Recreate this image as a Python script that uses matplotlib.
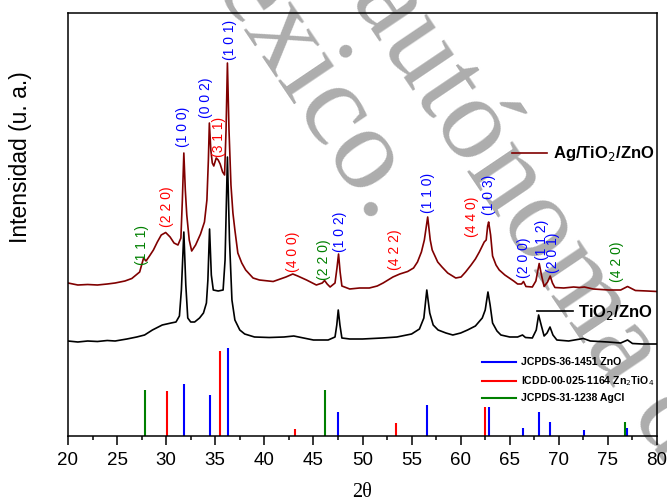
import matplotlib
matplotlib.use("Agg")
import matplotlib.pyplot as plt
from matplotlib.ticker import MultipleLocator

plt.rcParams["font.family"] = ["Liberation Sans", "DejaVu Sans"]

# --- diffractogram of TiO2/ZnO (2theta, intensity a.u.) ---
tz_2theta = [20.0, 21.0, 22.0, 23.0, 24.0, 24.8, 26.0, 27.0, 27.8, 28.6, 29.6, 30.5, 31.0,
             31.35, 31.55, 31.8, 32.0, 32.2, 32.5, 32.9, 33.4, 33.8, 34.1, 34.25, 34.42,
             34.6, 34.8, 35.3, 35.8, 36.0, 36.24, 36.45, 36.7, 37.0, 37.5, 38.0, 39.0,
             40.5, 42.0, 43.0, 44.0, 45.0, 46.5, 47.2, 47.38, 47.53, 47.7, 47.9, 48.7,
             50.0, 52.0, 53.5, 55.0, 55.8, 56.25, 56.55, 56.85, 57.2, 57.7, 58.5, 59.2,
             60.0, 60.7, 61.5, 62.2, 62.5, 62.78, 63.0, 63.25, 63.7, 64.1, 65.0, 65.8,
             66.3, 66.6, 67.3, 67.7, 67.94, 68.2, 68.5, 68.8, 69.1, 69.4, 69.8, 71.0,
             72.5, 73.2, 75.0, 76.3, 77.0, 77.5, 78.5, 80.0]
tz_int = [95, 94, 95, 94.5, 95.5, 95, 97, 99, 101, 106, 111, 113, 114,
          120, 146, 204, 151, 118, 114, 114, 118, 123, 133, 156, 207,
          161, 146, 145, 146, 176, 279, 196, 136, 116, 106, 102, 99,
          98.5, 99, 100, 98, 96, 96, 99, 111, 126, 111, 98, 97,
          97, 98, 99, 102, 107, 118, 146, 123, 111, 106, 103, 101,
          103, 106, 110, 118, 126, 144, 131, 113, 105, 101, 99, 99,
          101, 98.5, 98, 106, 121, 111, 100, 103, 109, 101, 96, 95,
          97.5, 95, 94, 93, 96, 92.5, 92, 92]

# --- diffractogram of Ag/TiO2/ZnO ---
ag_2theta = [20.0, 21.0, 22.0, 23.0, 24.0, 24.8, 25.8, 26.5, 27.3, 27.7, 27.95, 28.3, 28.7,
             29.1, 29.5, 29.95, 30.4, 30.8, 31.2, 31.5, 31.65, 31.8, 31.95, 32.1, 32.35,
             32.6, 33.0, 33.5, 33.9, 34.15, 34.3, 34.4, 34.55, 34.7, 34.85, 35.1, 35.3,
             35.5, 35.75, 35.95, 36.1, 36.24, 36.4, 36.6, 36.8, 37.0, 37.3, 37.7, 38.1,
             38.85, 39.5, 40.9, 42.2, 42.9, 43.4, 44.3, 45.3, 45.9, 46.14, 46.4, 46.7,
             47.2, 47.4, 47.56, 47.72, 47.9, 48.7, 49.7, 50.7, 51.5, 52.1, 53.1, 53.8,
             54.6, 55.2, 55.6, 56.0, 56.3, 56.64, 56.9, 57.1, 57.66, 58.1, 58.68, 59.5,
             60.04, 60.5, 61.06, 61.5, 61.9, 62.4, 62.6, 62.75, 62.85, 63.05, 63.25, 63.6,
             63.93, 64.5, 64.95, 65.4, 65.8, 66.2, 66.4, 66.65, 67.3, 67.66, 68.0, 68.25,
             68.5, 68.85, 69.12, 69.35, 69.6, 70.5, 71.5, 72.1, 72.6, 73.5, 75.1, 76.3,
             77.0, 77.5, 77.8, 79.0, 80.0]
ag_int = [153, 151, 151.5, 151, 152, 153, 155, 157.5, 164, 178, 175, 180, 186,
          194, 201, 203.5, 199, 193, 191, 198, 236, 283, 246, 221, 196,
          185, 191, 202, 214, 236, 276, 313, 286, 273, 270, 278, 276,
          272, 264, 261, 306, 373, 306, 251, 223, 206, 183, 173, 166,
          158, 156, 154.5, 159, 162, 160, 156, 151, 153, 155.5, 152, 149,
          153, 168, 182, 164, 150, 147, 148, 148, 150, 153, 159, 162,
          164.5, 168, 174, 184, 196, 219, 196, 186, 174, 169, 163, 158,
          159, 164, 171, 177, 184, 194, 196, 210, 214, 201, 180, 171,
          166, 161, 158, 155, 152, 152, 154.5, 149.5, 149, 155, 172.5, 160,
          149.5, 154, 160, 153, 148.5, 148, 149, 148.5, 149, 147, 146, 146,
          149.5, 147, 145.5, 145, 144.5]

# --- reference patterns ---
zno_pos = [31.77, 34.42, 36.25, 47.54, 56.60, 62.86, 66.38, 67.96, 69.10, 72.56, 76.95]
zno_int = [52, 41, 88, 24, 31, 29, 8, 24, 14, 6, 8]
zn2tio4_pos = [30.04, 35.46, 43.13, 53.43, 62.52]
zn2tio4_int = [45, 85, 7, 13, 29]
agcl_pos = [27.83, 46.20, 76.73]
agcl_int = [46, 46, 14]

ref_names = ["JCPDS-36-1451 ZnO",
             r"ICDD-00-025-1164 Zn$_2$TiO$_4$",
             "JCPDS-31-1238 AgCl"]

# --- Miller index labels ---
hkl_text = ["(1 1 1)", "(2 2 0)", "(1 0 0)", "(0 0 2)", "(3 1 1)", "(1 0 1)",
            "(4 0 0)", "(2 2 0)", "(1 0 2)", "(4 2 2)", "(1 1 0)", "(4 4 0)",
            "(1 0 3)", "(2 0 0)", "(1 1 2)", "(2 0 1)", "(4 2 0)"]
hkl_x = [27.53, 30.04, 31.73, 34.10, 35.39, 36.48, 42.90, 46.03, 47.73, 53.30,
         56.64, 61.20, 62.92, 66.48, 68.25, 69.42, 75.97]
hkl_y = [191, 229, 309, 338, 299, 396, 184, 176, 204, 186, 243, 219, 241,
         178, 196, 183, 174]
hkl_color = ["#008000", "#ff0000", "#0000ff", "#0000ff", "#ff0000", "#0000ff",
             "#ff0000", "#008000", "#0000ff", "#ff0000", "#0000ff", "#ff0000",
             "#0000ff", "#0000ff", "#0000ff", "#0000ff", "#008000"]

BLUE, RED, GREEN, MAROON = "#0000ff", "#ff0000", "#008000", "#800000"

fig = plt.figure(figsize=(6.67, 5.04), dpi=100)
ax = fig.add_axes([68 / 667, 68 / 504, 589 / 667, 423 / 504])
ax.set_facecolor("none")
ax.set_zorder(2)

# watermark
wm = dict(family="Liberation Serif", fontsize=86, color="#adadad",
          rotation=-56, rotation_mode="anchor", va="baseline", zorder=0)
fig.text(373 / 667, 1 - 227 / 504, "México.", ha="right", **wm)
fig.text(350 / 667, 1 + 2 / 504, "autónoma de", ha="left", **wm)

ax.plot(tz_2theta, tz_int, color="black", lw=1.2)
ax.plot(ag_2theta, ag_int, color=MAROON, lw=1.2)

ax.vlines(zno_pos, 0, zno_int, color=BLUE, lw=1.5)
ax.vlines(zn2tio4_pos, 0, zn2tio4_int, color=RED, lw=1.5)
ax.vlines(agcl_pos, 0, agcl_int, color=GREEN, lw=1.5)

for t, x, y, c in zip(hkl_text, hkl_x, hkl_y, hkl_color):
    ax.text(x, y, t, rotation=90, ha="center", va="center", color=c, fontsize=10)

# sample callouts
tr = ax.transAxes
ax.plot([0.753, 0.813], [0.670, 0.670], color=MAROON, lw=1.2, transform=tr)
ax.text(0.823, 0.657, r"Ag/TiO$_2$/ZnO", transform=tr, fontsize=12,
        fontweight="bold", va="baseline", ha="left")
ax.plot([0.796, 0.858], [0.2955, 0.2955], color="black", lw=1.2, transform=tr)
ax.text(0.866, 0.281, r"TiO$_2$/ZnO", transform=tr, fontsize=12,
        fontweight="bold", va="baseline", ha="left")

# reference pattern key
for name, c, yk in zip(ref_names, [BLUE, RED, GREEN], [0.174, 0.130, 0.0905]):
    ax.plot([0.703, 0.760], [yk, yk], color=c, lw=1.5, transform=tr)
    ax.text(0.769, yk, name, transform=tr, fontsize=7.6, fontweight="bold",
            va="center", ha="left")

ax.set_xlim(20, 80)
ax.set_ylim(0, 423)
ax.set_yticks([])
ax.xaxis.set_major_locator(MultipleLocator(5))
ax.xaxis.set_minor_locator(MultipleLocator(2.5))
ax.tick_params(axis="x", which="major", direction="out", length=6.5, width=1.1,
               labelsize=13.5, pad=5)
ax.tick_params(axis="x", which="minor", direction="out", length=3.2, width=1.1)
for s in ax.spines.values():
    s.set_linewidth(1.1)

ax.set_xlabel("2θ", fontsize=14.5, family="Liberation Serif", labelpad=10)
fig.text(21 / 667, 1 - 157 / 504, "Intensidad (u. a.)", rotation=90,
         ha="center", va="center", fontsize=16.5)

fig.savefig("out.png", dpi=100)
